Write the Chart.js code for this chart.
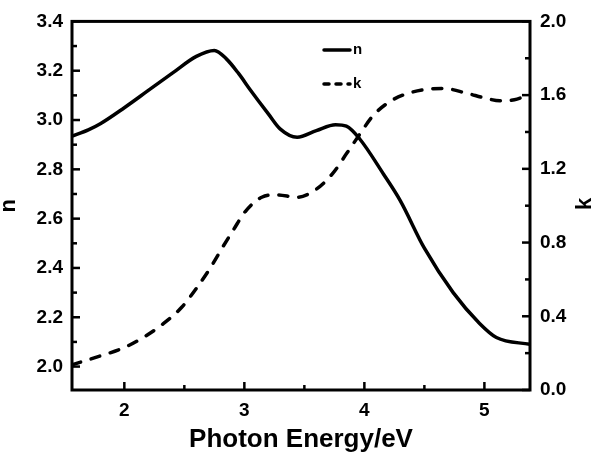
<!DOCTYPE html>
<html><head><meta charset="utf-8">
<script src="https://cdn.jsdelivr.net/npm/chart.js@4/dist/chart.umd.min.js"></script>
<style>html,body{margin:0;padding:0;background:#fff}canvas{display:block}</style>
</head><body>
<canvas id="c" width="600" height="456"></canvas>
<script>
// ---- data ----
const nEnergy = [1.564, 1.7, 1.8, 2.0, 2.2, 2.4, 2.6, 2.75, 2.85, 2.95, 3.05, 3.2, 3.3, 3.44, 3.6, 3.76, 3.85, 3.96, 4.16, 4.3, 4.5, 4.74, 4.96, 5.1, 5.38];
const nValues = [2.935, 2.96, 2.985, 3.05, 3.12, 3.19, 3.258, 3.282, 3.248, 3.19, 3.122, 3.025, 2.963, 2.93, 2.957, 2.981, 2.975, 2.924, 2.78, 2.672, 2.48, 2.30, 2.175, 2.118, 2.09];
const kEnergy = [1.564, 1.8, 2.0, 2.17, 2.325, 2.478, 2.603, 2.714, 2.81, 2.91, 3.006, 3.145, 3.27, 3.44, 3.6, 3.74, 3.853, 3.964, 4.07, 4.2, 4.32, 4.5, 4.66, 4.855, 5.0, 5.13, 5.25, 5.38];
const kValues = [0.137, 0.185, 0.23, 0.29, 0.36, 0.449, 0.554, 0.66, 0.765, 0.87, 0.967, 1.046, 1.059, 1.046, 1.09, 1.178, 1.284, 1.39, 1.487, 1.56, 1.60, 1.63, 1.636, 1.61, 1.585, 1.569, 1.575, 1.604];
const seriesNames = ['n', 'k'];
const xTitle = 'Photon Energy/eV';
const xTicks = [2, 3, 4, 5];
const xMinorTicks = [2.5, 3.5, 4.5];
const nTicks = [2.0, 2.2, 2.4, 2.6, 2.8, 3.0, 3.2, 3.4];
const nMinorTicks = [2.1, 2.3, 2.5, 2.7, 2.9, 3.1, 3.3];
const kTicks = [0.0, 0.4, 0.8, 1.2, 1.6, 2.0];
const kMinorTicks = [0.2, 0.6, 1.0, 1.4, 1.8];

const FONT = "'Liberation Sans', Arial, sans-serif";
const toPts = (xs, ys) => xs.map((x, i) => ({x: x, y: ys[i]}));
const fixTicks = list => scale => { scale.ticks = list.map(v => ({value: v})); };

const frameTicks = {
  id: 'frameTicks',
  afterDatasetsDraw(chart) {
    const {ctx, chartArea: a, scales} = chart;
    ctx.save();
    ctx.strokeStyle = '#000';
    ctx.lineCap = 'butt';
    const line = (x1, y1, x2, y2) => { ctx.beginPath(); ctx.moveTo(x1, y1); ctx.lineTo(x2, y2); ctx.stroke(); };
    const MAJ = 8, MIN = 5;
    ctx.lineWidth = 2.5;
    xTicks.forEach(v => { const x = scales.x.getPixelForValue(v); line(x, a.bottom, x, a.bottom - MAJ); });
    xMinorTicks.forEach(v => { const x = scales.x.getPixelForValue(v); line(x, a.bottom, x, a.bottom - MIN); });
    nTicks.forEach(v => { const y = scales.yN.getPixelForValue(v); line(a.left, y, a.left + MAJ, y); });
    nMinorTicks.forEach(v => { const y = scales.yN.getPixelForValue(v); line(a.left, y, a.left + MIN, y); });
    kTicks.forEach(v => { const y = scales.yK.getPixelForValue(v); line(a.right, y, a.right - MAJ, y); });
    kMinorTicks.forEach(v => { const y = scales.yK.getPixelForValue(v); line(a.right, y, a.right - MIN, y); });
    ctx.lineWidth = 3;
    ctx.strokeRect(a.left, a.top, a.right - a.left, a.bottom - a.top);
    ctx.restore();
  },
  afterDraw(chart) {
    const {ctx, data} = chart;
    ctx.save();
    ctx.strokeStyle = '#000';
    ctx.fillStyle = '#000';
    // legend
    const rows = [{y: 50, ds: data.datasets[0]}, {y: 84, ds: data.datasets[1]}];
    rows.forEach(r => {
      ctx.lineWidth = 3.5;
      ctx.lineCap = 'round';
      ctx.setLineDash(r.ds.borderDash && r.ds.borderDash.length ? [5, 7] : []);
      ctx.beginPath(); ctx.moveTo(324, r.y); ctx.lineTo(350, r.y); ctx.stroke();
      ctx.setLineDash([]);
      ctx.font = 'bold 15px ' + FONT;
      ctx.textBaseline = 'middle';
      ctx.textAlign = 'left';
      ctx.fillText(r.ds.label, 353, r.y);
    });
    // right axis title (rotated like the left one)
    ctx.translate(585, 204);
    ctx.rotate(-Math.PI / 2);
    ctx.font = 'bold 22px ' + FONT;
    ctx.textAlign = 'center';
    ctx.textBaseline = 'middle';
    ctx.fillText(seriesNames[1], 0, 0);
    ctx.restore();
  }
};

new Chart(document.getElementById('c'), {
  type: 'line',
  data: {
    datasets: [
      {label: seriesNames[0], data: toPts(nEnergy, nValues), yAxisID: 'yN', borderColor: '#000', borderWidth: 3.5, pointRadius: 0, cubicInterpolationMode: 'monotone', fill: false},
      {label: seriesNames[1], data: toPts(kEnergy, kValues), yAxisID: 'yK', borderColor: '#000', borderWidth: 3.5, borderDash: [9, 11], borderCapStyle: 'round', pointRadius: 0, cubicInterpolationMode: 'monotone', fill: false}
    ]
  },
  options: {
    responsive: false,
    animation: false,
    events: [],
    layout: {padding: {top: 11, left: 0, right: 0, bottom: 0}},
    plugins: {legend: {display: false}, tooltip: {enabled: false}},
    scales: {
      x: {
        type: 'linear', min: 1.564, max: 5.38,
        afterBuildTicks: fixTicks(xTicks),
        afterFit: s => { s.height = 66; },
        grid: {display: false, drawTicks: false},
        border: {display: false},
        ticks: {color: '#000', font: {family: FONT, size: 19, weight: 'bold'}, padding: 9, callback: v => String(v)},
        title: {display: true, text: xTitle, color: '#000', font: {family: FONT, size: 26, weight: 'bold', lineHeight: 1.2}, padding: {top: 0, bottom: 1}}
      },
      yN: {
        type: 'linear', position: 'left', min: 1.905, max: 3.4,
        afterBuildTicks: fixTicks(nTicks),
        afterFit: s => { s.width = 72; },
        grid: {display: false, drawTicks: false},
        border: {display: false},
        ticks: {color: '#000', font: {family: FONT, size: 19, weight: 'bold'}, padding: 9, callback: v => Number(v).toFixed(1)},
        title: {display: true, text: seriesNames[0], color: '#000', font: {family: FONT, size: 22, weight: 'bold', lineHeight: 0.8}, padding: {top: 0, bottom: 0}}
      },
      yK: {
        type: 'linear', position: 'right', min: 0, max: 2.0,
        afterBuildTicks: fixTicks(kTicks),
        afterFit: s => { s.width = 70; },
        grid: {display: false, drawTicks: false},
        border: {display: false},
        ticks: {color: '#000', font: {family: FONT, size: 19, weight: 'bold'}, padding: 10, callback: v => Number(v).toFixed(1)}
      }
    }
  },
  plugins: [frameTicks]
});
</script>
</body></html>
